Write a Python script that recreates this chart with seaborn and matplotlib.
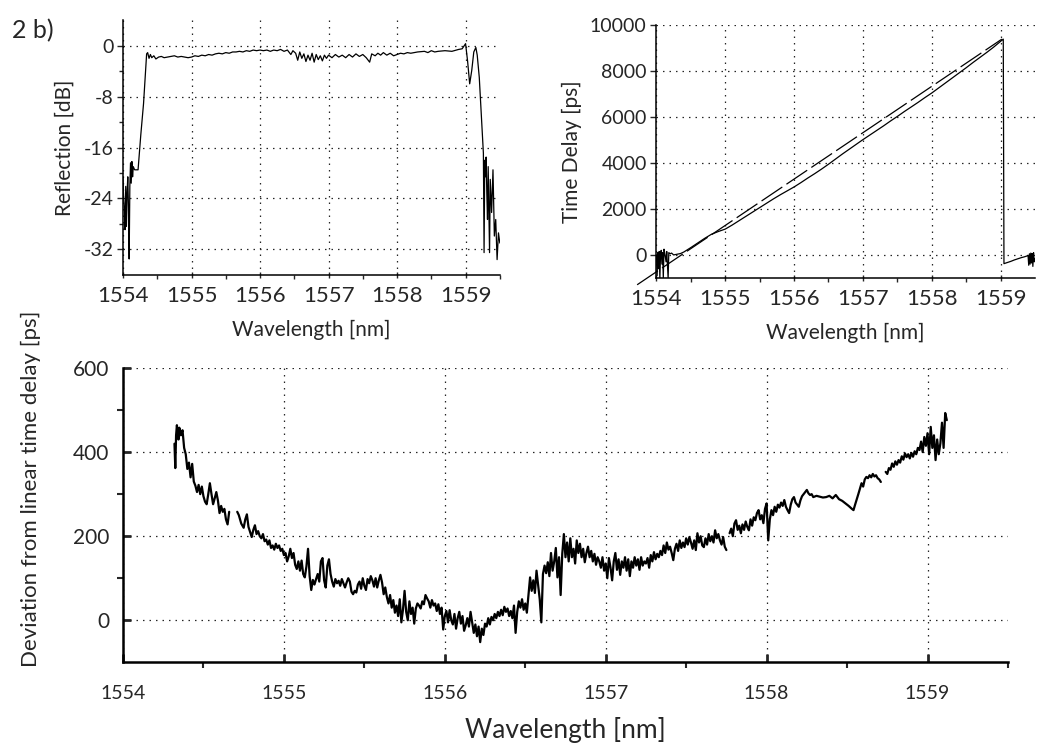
import numpy as np
import pandas as pd
import matplotlib
matplotlib.use("Agg")
import matplotlib.pyplot as plt
import seaborn as sns

# ---- data ------------------------------------------------------------------
# reflection spectrum (top left)
refl_wl = [1554.00, 1554.01, 1554.02, 1554.03, 1554.04, 1554.05, 1554.06, 1554.07, 1554.08, 1554.09,
           1554.10, 1554.11, 1554.12, 1554.13, 1554.14, 1554.15, 1554.17, 1554.22, 1554.26, 1554.30,
           1554.345, 1554.36, 1554.38, 1554.40, 1554.42, 1554.45, 1554.48, 1554.52, 1554.56, 1554.60,
           1554.65, 1554.70, 1554.75, 1554.80, 1554.85, 1554.90, 1554.95, 1555.00, 1555.05, 1555.10,
           1555.15, 1555.20, 1555.25, 1555.30, 1555.35, 1555.40, 1555.45, 1555.50, 1555.55, 1555.60,
           1555.65, 1555.70, 1555.75, 1555.80, 1555.85, 1555.90, 1555.95, 1556.00, 1556.05, 1556.10,
           1556.15, 1556.20, 1556.25, 1556.30, 1556.35, 1556.40, 1556.45, 1556.48, 1556.52, 1556.55,
           1556.58, 1556.61, 1556.64, 1556.67, 1556.70, 1556.73, 1556.76, 1556.79, 1556.82, 1556.85,
           1556.88, 1556.91, 1556.94, 1556.97, 1557.00, 1557.05, 1557.10, 1557.15, 1557.20, 1557.25,
           1557.30, 1557.35, 1557.40, 1557.45, 1557.50, 1557.55, 1557.60, 1557.63, 1557.68, 1557.72,
           1557.76, 1557.80, 1557.85, 1557.90, 1557.95, 1558.00, 1558.05, 1558.10, 1558.15, 1558.20,
           1558.30, 1558.40, 1558.45, 1558.50, 1558.55, 1558.60, 1558.70, 1558.80, 1558.90, 1558.95,
           1559.00, 1559.03, 1559.06, 1559.09, 1559.12, 1559.15, 1559.17, 1559.20, 1559.23, 1559.26,
           1559.27, 1559.28, 1559.29, 1559.30, 1559.31, 1559.32, 1559.33, 1559.35, 1559.36, 1559.38,
           1559.40, 1559.42, 1559.44, 1559.46, 1559.48, 1559.50]
refl_db = [-20.6, -24.0, -25.7, -28.9, -22.1, -28.4, -23.1, -20.6, -25.3, -33.5,
           -22.1, -18.4, -21.6, -18.2, -20.6, -19.0, -19.5, -19.5, -14.0, -9.1,
           -1.3, -1.1, -2.0, -1.4, -1.9, -1.6, -2.1, -1.8, -1.7, -1.9,
           -1.8, -1.7, -1.6, -1.8, -1.7, -1.8, -1.9, -1.8, -1.6, -1.7,
           -1.5, -1.6, -1.4, -1.5, -1.3, -1.2, -1.3, -1.1, -1.2, -1.0,
           -1.0, -0.9, -1.0, -0.8, -0.9, -0.7, -0.8, -0.7, -0.8, -0.7,
           -0.9, -0.7, -0.8, -0.6, -0.9, -0.7, -1.4, -0.8, -1.2, -2.3,
           -1.0, -2.0, -1.3, -2.5, -1.5, -2.3, -1.2, -2.6, -1.4, -2.2,
           -1.6, -2.4, -1.5, -2.0, -1.5, -1.9, -1.4, -1.8, -1.5, -1.9,
           -1.4, -1.8, -1.3, -1.7, -1.4, -1.9, -2.6, -1.3, -1.6, -1.2,
           -1.5, -1.1, -1.5, -1.2, -1.6, -1.4, -1.2, -1.3, -1.1, -1.2,
           -1.0, -0.9, -1.1, -0.8, -1.0, -0.9, -0.8, -0.9, -0.6, -0.5,
           0.3, -2.5, -6.0, -3.9, -1.0, -0.3, -1.5, -5.0, -11.0, -16.9,
           -32.5, -18.0, -20.6, -17.5, -23.1, -27.3, -19.0, -32.5, -21.0, -26.2,
           -19.5, -29.9, -27.3, -33.6, -29.4, -31.0]

# measured time delay (top right)
td_wl = [1554.00, 1554.01, 1554.02, 1554.03, 1554.04, 1554.05, 1554.06, 1554.07, 1554.08, 1554.09,
         1554.10, 1554.11, 1554.12, 1554.14, 1554.15, 1554.17, 1554.18, 1554.20, 1554.22, 1554.25,
         1554.30, 1554.35, 1554.40, 1554.50, 1554.60, 1554.70, 1554.80, 1554.90, 1555.00, 1555.10,
         1555.20, 1555.30, 1555.40, 1555.50, 1555.60, 1555.70, 1555.80, 1555.90, 1556.00, 1556.10,
         1556.20, 1556.30, 1556.40, 1556.50, 1556.60, 1556.70, 1556.80, 1556.90, 1557.00, 1557.10,
         1557.20, 1557.30, 1557.40, 1557.50, 1557.60, 1557.70, 1557.80, 1557.90, 1558.00, 1558.10,
         1558.20, 1558.30, 1558.40, 1558.50, 1558.60, 1558.70, 1558.80, 1558.90, 1559.00, 1559.04,
         1559.05, 1559.10, 1559.15, 1559.20, 1559.25, 1559.30, 1559.35, 1559.38, 1559.40, 1559.41,
         1559.42, 1559.43, 1559.44, 1559.45, 1559.46, 1559.47, 1559.48, 1559.49, 1559.50]
td_ps = [0, -900, 100, -600, 150, -1000, 50, 200, -400, 100,
         -1000, 250, 100, -300, 150, -1000, 100, 50, 80, 0,
         30, 60, 130, 320, 520, 720, 900, 1020, 1125, 1300,
         1490, 1680, 1870, 2060, 2250, 2440, 2620, 2790, 2960, 3150,
         3350, 3540, 3740, 3950, 4170, 4390, 4600, 4810, 5020, 5220,
         5420, 5620, 5830, 6030, 6240, 6440, 6640, 6850, 7050, 7270,
         7490, 7710, 7930, 8150, 8380, 8600, 8820, 9050, 9300, 9400,
         -380, -330, -280, -220, -170, -120, -80, -50, -20, -450,
         50, -400, 80, -350, 60, -500, 100, -300, -150]

# linear fit (dashed)
fit_wl = [1553.72, 1559.02]
fit_ps = [-1300, 9400]

# deviation from linear time delay (bottom), nan = gap in trace
dev_wl = [1554.32, 1554.325, 1554.33, 1554.335, 1554.345, 1554.35, 1554.36, 1554.37, 1554.38, 1554.39,
          1554.40, 1554.41, 1554.42, 1554.43, 1554.44, 1554.45, 1554.46, 1554.47, 1554.48, 1554.49,
          1554.50, 1554.51, 1554.52, 1554.53, 1554.54, 1554.55, 1554.56, 1554.57, 1554.58, 1554.59,
          1554.60, 1554.61, 1554.62, 1554.63, 1554.64, 1554.65, 1554.66, 1554.68, 1554.71, 1554.72,
          1554.735, 1554.75, 1554.76, 1554.77, 1554.78, 1554.79, 1554.80, 1554.81, 1554.82, 1554.83,
          1554.84, 1554.85, 1554.86, 1554.87, 1554.88, 1554.89, 1554.90, 1554.91, 1554.92, 1554.93,
          1554.94, 1554.95, 1554.96, 1554.97, 1554.98, 1554.99, 1555.00, 1555.01, 1555.02, 1555.03,
          1555.04, 1555.05, 1555.06, 1555.07, 1555.08, 1555.09, 1555.10, 1555.11, 1555.12, 1555.13,
          1555.14, 1555.15, 1555.16, 1555.17, 1555.18, 1555.19, 1555.20, 1555.21, 1555.22, 1555.23,
          1555.24, 1555.25, 1555.26, 1555.27, 1555.28, 1555.29, 1555.30, 1555.31, 1555.32, 1555.33,
          1555.34, 1555.35, 1555.36, 1555.37, 1555.38, 1555.39, 1555.40, 1555.41, 1555.42, 1555.43,
          1555.44, 1555.45, 1555.46, 1555.47, 1555.48, 1555.49, 1555.50, 1555.51, 1555.52, 1555.53,
          1555.54, 1555.55, 1555.56, 1555.57, 1555.58, 1555.59, 1555.60, 1555.61, 1555.62, 1555.63,
          1555.64, 1555.65, 1555.66, 1555.67, 1555.68, 1555.69, 1555.70, 1555.71, 1555.72, 1555.73,
          1555.74, 1555.75, 1555.76, 1555.77, 1555.78, 1555.79, 1555.80, 1555.81, 1555.82, 1555.83,
          1555.84, 1555.85, 1555.86, 1555.87, 1555.88, 1555.89, 1555.90, 1555.91, 1555.92, 1555.93,
          1555.94, 1555.95, 1555.96, 1555.97, 1555.98, 1555.99, 1556.00, 1556.01, 1556.02, 1556.03,
          1556.04, 1556.05, 1556.06, 1556.07, 1556.08, 1556.09, 1556.10, 1556.11, 1556.12, 1556.13,
          1556.14, 1556.15, 1556.16, 1556.17, 1556.18, 1556.19, 1556.20, 1556.21, 1556.22, 1556.23,
          1556.24, 1556.25, 1556.26, 1556.27, 1556.28, 1556.29, 1556.30, 1556.31, 1556.32, 1556.33,
          1556.34, 1556.35, 1556.36, 1556.37, 1556.38, 1556.39, 1556.40, 1556.41, 1556.42, 1556.43,
          1556.44, 1556.45, 1556.46, 1556.47, 1556.48, 1556.49, 1556.50, 1556.51, 1556.52, 1556.53,
          1556.54, 1556.55, 1556.56, 1556.57, 1556.58, 1556.59, 1556.60, 1556.61, 1556.62, 1556.63,
          1556.64, 1556.65, 1556.66, 1556.67, 1556.68, 1556.69, 1556.70, 1556.71, 1556.72, 1556.73,
          1556.74, 1556.75, 1556.76, 1556.77, 1556.78, 1556.79, 1556.80, 1556.81, 1556.82, 1556.83,
          1556.84, 1556.85, 1556.86, 1556.87, 1556.88, 1556.89, 1556.90, 1556.91, 1556.92, 1556.93,
          1556.94, 1556.95, 1556.96, 1556.97, 1556.98, 1556.99, 1557.00, 1557.01, 1557.02, 1557.03,
          1557.04, 1557.05, 1557.06, 1557.07, 1557.08, 1557.09, 1557.10, 1557.11, 1557.12, 1557.13,
          1557.14, 1557.15, 1557.16, 1557.17, 1557.18, 1557.19, 1557.20, 1557.21, 1557.22, 1557.23,
          1557.24, 1557.25, 1557.26, 1557.27, 1557.28, 1557.29, 1557.30, 1557.31, 1557.32, 1557.33,
          1557.34, 1557.35, 1557.36, 1557.37, 1557.38, 1557.39, 1557.40, 1557.41, 1557.42, 1557.43,
          1557.44, 1557.45, 1557.46, 1557.47, 1557.48, 1557.49, 1557.50, 1557.51, 1557.52, 1557.53,
          1557.54, 1557.55, 1557.56, 1557.57, 1557.58, 1557.59, 1557.60, 1557.61, 1557.62, 1557.63,
          1557.64, 1557.65, 1557.66, 1557.67, 1557.68, 1557.69, 1557.70, 1557.71, 1557.72, 1557.73,
          1557.74, 1557.75, 1557.76, 1557.77, 1557.78, 1557.79, 1557.80, 1557.81, 1557.82, 1557.83,
          1557.84, 1557.85, 1557.86, 1557.87, 1557.88, 1557.89, 1557.90, 1557.91, 1557.92, 1557.93,
          1557.94, 1557.95, 1557.96, 1557.97, 1557.98, 1557.99, 1558.00, 1558.01, 1558.02, 1558.03,
          1558.04, 1558.05, 1558.06, 1558.07, 1558.08, 1558.09, 1558.10, 1558.11, 1558.12, 1558.13,
          1558.14, 1558.15, 1558.16, 1558.17, 1558.18, 1558.19, 1558.20, 1558.21, 1558.22, 1558.23,
          1558.24, 1558.25, 1558.26, 1558.27, 1558.28, 1558.29, 1558.31, 1558.33, 1558.35, 1558.37,
          1558.39, 1558.41, 1558.43, 1558.45, 1558.47, 1558.49, 1558.51, 1558.53, 1558.54, 1558.55,
          1558.57, 1558.59, 1558.60, 1558.61, 1558.62, 1558.63, 1558.64, 1558.65, 1558.66, 1558.67,
          1558.68, 1558.69, 1558.70, 1558.71, 1558.725, 1558.74, 1558.75, 1558.76, 1558.77, 1558.78,
          1558.79, 1558.80, 1558.81, 1558.82, 1558.83, 1558.84, 1558.85, 1558.86, 1558.87, 1558.88,
          1558.89, 1558.90, 1558.91, 1558.92, 1558.93, 1558.94, 1558.95, 1558.96, 1558.97, 1558.98,
          1558.99, 1559.00, 1559.01, 1559.02, 1559.03, 1559.04, 1559.05, 1559.06, 1559.07, 1559.08,
          1559.09, 1559.10, 1559.11, 1559.12]
dev_ps = [420, 362, 440, 464, 430, 458, 440, 452, 410, 395,
          360, 375, 340, 372, 330, 320, 305, 322, 300, 318,
          295, 282, 276, 300, 326, 300, 276, 290, 305, 285,
          255, 272, 258, 265, 240, 228, 258, np.nan, 258, 250,
          230, 220, 240, 252, 222, 210, 198, 215, 226, 205,
          212, 200, 195, 205, 188, 192, 180, 190, 172, 178,
          168, 182, 172, 178, 165, 170, 155, 160, 140, 152,
          170, 148, 160, 132, 122, 140, 118, 142, 110, 102,
          128, 170, 105, 72, 96, 85, 98, 110, 92, 140,
          148, 95, 78, 130, 145, 110, 92, 80, 98, 88,
          94, 82, 98, 88, 78, 90, 100, 92, 68, 62,
          70, 66, 85, 92, 75, 100, 82, 72, 98, 88,
          105, 95, 80, 100, 78, 95, 108, 90, 62, 78,
          55, 40, 60, 30, 48, 18, 35, 10, 50, -5,
          25, 70, 20, 0, 45, 15, 30, -8, 28, 40,
          35, 28, 45, 38, 60, 52, 45, 30, 48, 35,
          40, 22, 38, 15, 30, -22, 10, 22, -5, 24,
          0, -10, 15, -20, 5, 20, -8, 10, -25, -12,
          5, -15, 20, -5, -30, -10, -38, -15, -52, -20,
          -35, -8, -15, 5, -10, 8, 0, 15, 5, 20,
          10, 25, 12, 32, 20, 28, 10, 22, 5, 35,
          -30, 20, 45, 30, 50, 25, 40, 18, 60, 102,
          70, 95, 65, 118, 85, 50, -5, 110, 130, 112,
          138, 105, 160, 118, 140, 172, 102, 150, 60, 158,
          205, 150, 185, 140, 195, 150, 170, 135, 190, 160,
          182, 150, 170, 138, 160, 175, 150, 165, 140, 158,
          132, 150, 140, 125, 150, 118, 135, 100, 148, 125,
          95, 140, 160, 120, 145, 108, 140, 125, 150, 118,
          145, 105, 140, 125, 150, 130, 145, 120, 150, 130,
          140, 135, 148, 125, 155, 140, 162, 145, 158, 150,
          165, 155, 178, 160, 185, 168, 175, 160, 143, 170,
          182, 165, 190, 172, 185, 174, 195, 180, 198, 185,
          170, 190, 167, 207, 185, 200, 178, 174, 195, 180,
          205, 188, 200, 185, 214, 195, 205, 190, 180, 198,
          175, 167, np.nan, 207, 218, 200, 230, 238, 215, 225,
          207, 228, 215, 235, 222, 214, 240, 225, 245, 238,
          255, 262, 240, 250, 231, 265, 278, 190, 240, 262,
          250, 270, 258, 275, 268, 280, 272, 286, 270, 262,
          255, 275, 288, 293, 280, 275, 270, 285, 295, 300,
          305, 310, 302, 298, 300, 293, 296, 294, 292, 293,
          296, 290, 298, 288, 284, 278, 272, 265, 262, 275,
          300, 326, 318, 335, 341, 338, 345, 340, 348, 342,
          345, 338, 335, 329, np.nan, 353, 348, 362, 358, 373,
          365, 378, 370, 381, 375, 390, 382, 397, 388, 395,
          385, 398, 389, 402, 395, 410, 405, 425, 400, 436,
          415, 445, 395, 460, 410, 440, 381, 430, 395, 421,
          470, 410, 493, 476]

# ---- style -------------------------------------------------------------------
sns.set_theme(style="ticks")
plt.rcParams["font.family"] = ["Lato", "DejaVu Sans"]
plt.rcParams["axes.unicode_minus"] = False

grid_kw = dict(color="0.15", linestyle=(0, (1.2, 4)), linewidth=0.9)


def traced(ax, wl, vals, lw):
    # break the line where the trace has gaps (nan)
    df = pd.DataFrame({"wl": wl, "v": vals})
    df["seg"] = df["v"].isna().cumsum()
    df = df.dropna()
    sns.lineplot(data=df, x="wl", y="v", units="seg", estimator=None, sort=False,
                 color="black", linewidth=lw, ax=ax, legend=False)
    ax.set_xlabel("")
    ax.set_ylabel("")


fig = plt.figure(figsize=(10.37, 7.45), dpi=100)

# top left: reflection
ax1 = fig.add_axes([0.1186, 0.631, 0.3634, 0.342])
traced(ax1, refl_wl, refl_db, 0.9)
ax1.set_xlim(1554, 1559.5)
ax1.set_ylim(-36, 4)
ax1.set_xticks([1554, 1555, 1556, 1557, 1558, 1559])
ax1.set_xticks([1554.5, 1555.5, 1556.5, 1557.5, 1558.5, 1559.5], minor=True)
ax1.set_yticks([0, -8, -16, -24, -32])
ax1.set_yticks([-4, -12, -20, -28], minor=True)
ax1.grid(True, which="major", **grid_kw)
ax1.set_ylabel("Reflection [dB]", fontsize=15, labelpad=6)
ax1.set_xlabel("Wavelength [nm]", fontsize=15, labelpad=10)
ax1.tick_params(axis="x", labelsize=16, length=4, width=1, direction="inout", pad=6)
ax1.tick_params(axis="y", labelsize=14, length=4, width=1, direction="out", pad=3)
ax1.tick_params(which="minor", length=3, width=1)

# top right: time delay
ax2 = fig.add_axes([0.633, 0.627, 0.365, 0.339])
traced(ax2, td_wl, td_ps, 0.9)
sns.lineplot(x=fit_wl, y=fit_ps, color="black", linewidth=0.9, ax=ax2,
             linestyle=(0, (20, 4)))
ax2.lines[-1].set_clip_on(False)
ax2.set_xlim(1554, 1559.5)
ax2.set_ylim(-1000, 10000)
ax2.set_xticks([1554, 1555, 1556, 1557, 1558, 1559])
ax2.set_xticks([1554.5, 1555.5, 1556.5, 1557.5, 1558.5], minor=True)
ax2.set_yticks([0, 2000, 4000, 6000, 8000, 10000])
ax2.grid(True, which="major", **grid_kw)
ax2.set_ylabel("Time Delay [ps]", fontsize=15, labelpad=6)
ax2.set_xlabel("Wavelength [nm]", fontsize=15, labelpad=10)
ax2.tick_params(axis="x", labelsize=16, length=4, width=1, direction="inout", pad=6)
ax2.tick_params(axis="y", labelsize=14, length=4, width=1, direction="out", pad=3)
ax2.tick_params(which="minor", length=3, width=1)

# bottom: deviation from linear
ax3 = fig.add_axes([0.1186, 0.111, 0.8534, 0.395])
traced(ax3, dev_wl, dev_ps, 1.6)
ax3.set_xlim(1554, 1559.5)
ax3.set_ylim(-100, 600)
ax3.set_xticks([1554, 1555, 1556, 1557, 1558, 1559])
ax3.set_xticks([1554.5, 1555.5, 1556.5, 1557.5, 1558.5, 1559.5], minor=True)
ax3.set_yticks([0, 200, 400, 600])
ax3.set_yticks([100, 300, 500], minor=True)
ax3.grid(True, which="major", **grid_kw)
ax3.set_xlabel("Wavelength [nm]", fontsize=19, labelpad=11)
ax3.set_ylabel("Deviation from linear time delay [ps]", fontsize=16)
ax3.yaxis.set_label_coords(-0.093, 0.59)
ax3.tick_params(axis="x", labelsize=14, length=6, width=2, direction="in", pad=16)
ax3.tick_params(axis="y", labelsize=15, length=6, width=2, direction="in", pad=10)
ax3.tick_params(which="minor", length=4, width=1.5)

for ax, lw in ((ax1, 1.1), (ax2, 1.1), (ax3, 1.8)):
    sns.despine(ax=ax)
    for s in ("left", "bottom"):
        ax.spines[s].set_linewidth(lw)
        ax.spines[s].set_color("black")

fig.text(0.012, 0.975, "2 b)", fontsize=18, va="top", ha="left")

fig.savefig("out.png", dpi=100, facecolor="white")
